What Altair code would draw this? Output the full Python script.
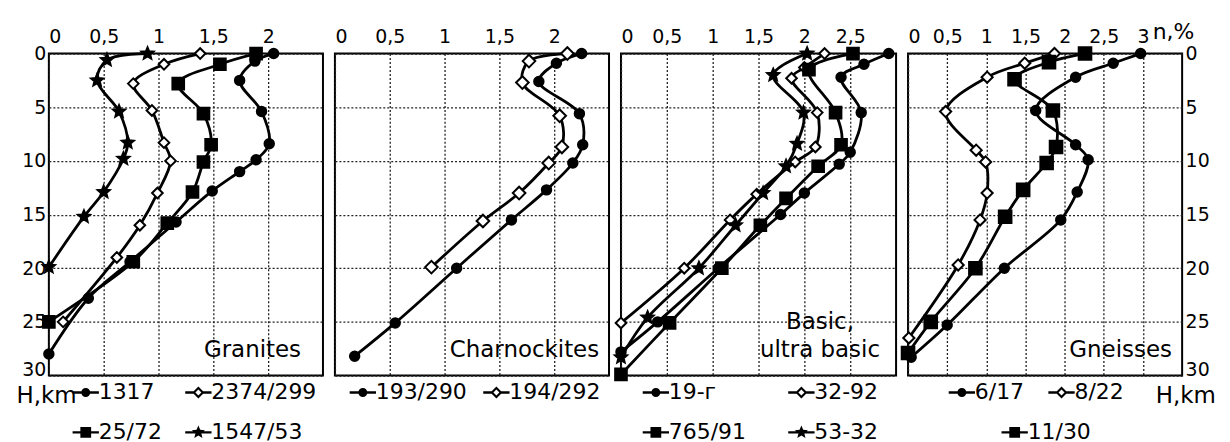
import altair as alt
import pandas as pd

FONT = "DejaVu Sans"

# ---------------- data (n,% vs depth H,km) ----------------
# Granites
GRAN_NAMES = ["1317", "2374/299", "25/72", "1547/53"]
GRAN_1317_D = [0, 0.7, 2.5, 5.4, 8.4, 9.9, 11.0, 12.8, 15.7, 19.4, 22.8, 28.0]
GRAN_1317_X = [2.05, 1.88, 1.74, 1.94, 2.01, 1.89, 1.74, 1.49, 1.16, 0.74, 0.36, 0.0]
GRAN_2374_D = [0, 1.0, 2.8, 5.3, 8.3, 10.0, 13.0, 16.0, 19.0, 25.0]
GRAN_2374_X = [1.38, 1.05, 0.77, 0.94, 1.05, 1.11, 0.99, 0.83, 0.62, 0.13]
GRAN_2572_D = [0, 1.0, 2.8, 5.6, 8.5, 10.1, 12.9, 15.8, 19.4, 25.0]
GRAN_2572_X = [1.89, 1.56, 1.18, 1.41, 1.48, 1.41, 1.31, 1.08, 0.77, 0.0]
GRAN_1547_D = [0, 0.6, 2.5, 5.4, 8.3, 9.8, 12.9, 15.2, 19.9]
GRAN_1547_X = [0.90, 0.53, 0.44, 0.64, 0.72, 0.68, 0.50, 0.32, 0.0]

# Charnockites
CHAR_NAMES = ["193/290", "194/292"]
CHAR_193_D = [0, 0.9, 2.6, 5.6, 8.5, 10.2, 12.7, 15.5, 20.0, 25.1, 28.2]
CHAR_193_X = [2.25, 2.02, 1.86, 2.23, 2.26, 2.17, 1.93, 1.61, 1.11, 0.55, 0.18]
CHAR_194_D = [0, 0.7, 2.7, 5.8, 8.7, 10.2, 13.0, 15.6, 19.9]
CHAR_194_X = [2.12, 1.77, 1.71, 2.05, 2.07, 1.95, 1.68, 1.35, 0.88]

# Basic, ultra basic
BAS_NAMES = ["19-г", "32-92", "765/91", "53-32"]
BAS_19_D = [0, 1.0, 2.2, 5.5, 9.2, 10.3, 13.0, 15.0, 20.0, 25.0, 27.8]
BAS_19_X = [2.92, 2.65, 2.40, 2.62, 2.50, 2.38, 2.00, 1.74, 1.06, 0.40, 0.0]
BAS_32_D = [0, 1.3, 2.3, 5.5, 8.7, 10.1, 13.1, 15.5, 20.0, 25.1]
BAS_32_X = [2.22, 2.00, 1.86, 2.14, 2.12, 1.90, 1.48, 1.19, 0.69, 0.0]
BAS_765_D = [0, 1.5, 5.5, 8.5, 10.5, 13.5, 16.0, 20.0, 25.1, 29.9]
BAS_765_X = [2.53, 2.05, 2.34, 2.40, 2.15, 1.80, 1.52, 1.10, 0.53, 0.0]
BAS_53_D = [0, 2.0, 5.5, 8.4, 10.5, 13.0, 16.0, 20.0, 24.6, 28.3]
BAS_53_X = [2.03, 1.66, 1.99, 1.92, 1.80, 1.55, 1.25, 0.85, 0.29, 0.0]

# Gneisses
GN_NAMES = ["6/17", "8/22", "11/30"]
GN_617_D = [0, 0.9, 2.2, 5.3, 8.5, 9.9, 12.9, 15.5, 20.0, 25.3, 28.3]
GN_617_X = [2.97, 2.62, 2.14, 1.63, 2.14, 2.30, 2.16, 1.95, 1.23, 0.50, 0.04]
GN_822_D = [0, 0.9, 2.2, 5.4, 9.0, 10.1, 13.0, 15.5, 19.7, 26.5]
GN_822_X = [1.87, 1.49, 1.01, 0.48, 0.87, 0.99, 1.01, 0.92, 0.64, 0.01]
GN_1130_D = [0, 0.8, 2.4, 5.3, 8.7, 10.2, 12.7, 15.2, 20.0, 25.0, 27.9]
GN_1130_X = [2.26, 1.80, 1.36, 1.85, 1.89, 1.77, 1.47, 1.24, 0.86, 0.29, 0.0]

# panel captions (text, x, depth)
GRAN_TXT = (["Granites"], [2.30], [28.3])
CHAR_TXT = (["Charnockites"], [2.41], [28.3])
BAS_TXT = (["Basic,", "ultra basic"], [2.17, 2.17], [25.7, 28.3])
GN_TXT = (["Gneisses"], [3.37], [28.3])

DEPTH_TICKS = [0, 5, 10, 15, 20, 25, 30]

# ---------------- marker shapes ----------------
STAR = ("M0,-1L0.265,-0.364L0.951,-0.309L0.428,0.139L0.588,0.809L0,0.45"
        "L-0.588,0.809L-0.428,0.139L-0.951,-0.309L-0.265,-0.364Z")
BAR = "M-2.2,-0.2L2.2,-0.2L2.2,0.2L-2.2,0.2Z "
LEG = {
    "circle": BAR + "M0.75,0A0.75,0.75 0 1,1 -0.75,0A0.75,0.75 0 1,1 0.75,0Z",
    "square": BAR + "M-0.9,-0.9L0.9,-0.9L0.9,0.9L-0.9,0.9Z",
    "star": BAR + ("M0,-1.15L0.305,-0.419L1.094,-0.355L0.492,0.16L0.676,0.93L0,0.518"
                   "L-0.676,0.93L-0.492,0.16L-1.094,-0.355L-0.305,-0.419Z"),
    "diamond": ("M-2.2,-0.2L-0.75,-0.2L-0.75,0.2L-2.2,0.2Z "
                "M0.75,-0.2L2.2,-0.2L2.2,0.2L0.75,0.2Z "
                "M0,-1L1,0L0,1L-1,0Z M0,-0.5L-0.5,0L0,0.5L0.5,0Z"),
}
PLOT_SHAPE = {"circle": "circle", "square": "square", "diamond": "diamond", "star": STAR}
SIZE = {"circle": 90, "square": 140, "diamond": 160, "star": 260}
FILL = {"circle": "black", "square": "black", "diamond": "white", "star": "black"}


def make_df(names, ds, xs):
    rows = []
    for n, d, x in zip(names, ds, xs):
        for i, (dd, xx) in enumerate(zip(d, x)):
            rows.append({"series": n, "depth": dd, "value": xx, "ord": i})
    return pd.DataFrame(rows)


def panel(names, kinds, ds, xs, txt, xmax, xticks, width, yaxis, xtitle,
          legends, txt_align, xtitle_x=0):
    df = make_df(names, ds, xs)
    kind_of = dict(zip(names, kinds))
    tdf = pd.DataFrame({"t": txt[0], "value": txt[1], "depth": txt[2]})

    xax = dict(orient="top", values=xticks,
               labelExpr="replace(format(datum.value, '~g'), '.', ',')",
               ticks=False, tickSize=0, domain=False, grid=True, gridColor="#222",
               gridDash=[2, 2], gridWidth=1.3, labelFont=FONT, labelFontSize=19,
               labelColor="black", labelPadding=7, labelOverlap=False,
               labelBound=False)
    if xtitle:
        xax.update(title=xtitle, titleX=xtitle_x, titleY=-15, titleAngle=0,
                   titleAlign="left", titleBaseline="alphabetic", titleFont=FONT,
                   titleFontSize=22, titleFontWeight="normal", titleColor="black")
    else:
        xax.update(title=None)

    x = alt.X("value:Q", scale=alt.Scale(domain=[0, xmax], nice=False, zero=False),
              axis=alt.Axis(**xax))
    y = alt.Y("depth:Q", scale=alt.Scale(domain=[0, 30], reverse=True, nice=False),
              axis=alt.Axis(**yaxis))

    lines = alt.Chart(df).mark_line(
        color="black", strokeWidth=2.8, interpolate="catmull-rom"
    ).encode(x=x, y=y, detail="series:N", order="ord:Q")

    pts = alt.Chart(df).mark_point(
        stroke="black", strokeWidth=2, opacity=1
    ).encode(
        x=x, y=y,
        shape=alt.Shape("series:N", scale=alt.Scale(domain=names,
                        range=[PLOT_SHAPE[k] for k in kinds]), legend=None),
        fill=alt.Fill("series:N", scale=alt.Scale(domain=names,
                      range=[FILL[k] for k in kinds]), legend=None),
        size=alt.Size("series:N", scale=alt.Scale(domain=names,
                      range=[SIZE[k] for k in kinds]), legend=None),
    )

    layers = [lines, pts]
    for subset, lx, ly, cp in legends:
        sub = df[df["series"].isin(subset)]
        layers.append(alt.Chart(sub).mark_point(
            filled=True, color="black", opacity=0, size=144
        ).encode(
            x=x, y=y,
            shape=alt.Shape("series:N", scale=alt.Scale(
                domain=subset, range=[LEG[kind_of[n]] for n in subset]),
                legend=alt.Legend(orient="none", legendX=lx, legendY=ly,
                                  direction="horizontal",
                                  columns=2, columnPadding=cp,
                                  rowPadding=18, title=None, padding=0,
                                  labelFont=FONT, labelFontSize=22,
                                  labelColor="black", symbolSize=144,
                                  symbolOffset=0, labelOffset=2,
                                  symbolOpacity=1, symbolFillColor="black",
                                  symbolStrokeColor="black",
                                  symbolStrokeWidth=1, labelLimit=300)),
        ))

    text = alt.Chart(tdf).mark_text(
        font=FONT, fontSize=23, align=txt_align, baseline="alphabetic", color="black"
    ).encode(x=x, y=y, text="t:N")
    layers.append(text)

    return alt.layer(*layers).resolve_scale(
        shape="independent").properties(width=width, height=323)


common_y = dict(values=DEPTH_TICKS, ticks=False, tickSize=0, domain=False, grid=True,
                gridColor="#222", gridDash=[2, 2], gridWidth=1.3)
label_y = dict(labelFont=FONT, labelFontSize=19, labelColor="black",
               labelPadding=3, labelOverlap=False, labelBound=False,
               labelBaseline={"condition": {"test": "datum.value == 30",
                                            "value": "alphabetic"},
                              "value": "middle"},
               titleAngle=0, titleAlign="left", titleBaseline="alphabetic",
               titleFont=FONT, titleFontSize=23, titleFontWeight="normal",
               titleColor="black", titleY=350)

y1 = dict(common_y, **label_y, orient="left", title="H,km", titleX=-33)
y4 = dict(common_y, **label_y, orient="right", title="H,km", titleX=-27)
y_none = dict(common_y, labels=False, title=None)

p1 = panel(GRAN_NAMES, ["circle", "diamond", "square", "star"],
           [GRAN_1317_D, GRAN_2374_D, GRAN_2572_D, GRAN_1547_D],
           [GRAN_1317_X, GRAN_2374_X, GRAN_2572_X, GRAN_1547_X],
           GRAN_TXT, 2.5, [0, 0.5, 1, 1.5, 2], 275, y1, None,
           [(GRAN_NAMES, 26, 329, 20)], "right")
p2 = panel(CHAR_NAMES, ["circle", "diamond"],
           [CHAR_193_D, CHAR_194_D], [CHAR_193_X, CHAR_194_X],
           CHAR_TXT, 2.5, [0, 0.5, 1, 1.5, 2], 275, y_none, None,
           [(CHAR_NAMES, 17, 329, 13)], "right")
p3 = panel(BAS_NAMES, ["circle", "diamond", "square", "star"],
           [BAS_19_D, BAS_32_D, BAS_765_D, BAS_53_D],
           [BAS_19_X, BAS_32_X, BAS_765_X, BAS_53_X],
           BAS_TXT, 3.0, [0, 0.5, 1, 1.5, 2, 2.5], 276, y_none, None,
           [(BAS_NAMES, 24, 329, 39)], "center")
p4 = panel(GN_NAMES, ["circle", "diamond", "square"],
           [GN_617_D, GN_822_D, GN_1130_D], [GN_617_X, GN_822_X, GN_1130_X],
           GN_TXT, 3.5, [0, 0.5, 1, 1.5, 2, 2.5, 3], 275, y4, "n,%",
           [(GN_NAMES[:2], 43, 329, 21), (GN_NAMES[2:], 96, 369, 7)], "right",
           xtitle_x=245)

chart = alt.hconcat(p1, p2, p3, p4, spacing=12, bounds="flush").resolve_scale(
    shape="independent", fill="independent", size="independent"
).properties(
    padding={"left": 7, "top": 11, "right": 5, "bottom": 0},
    background="white",
).configure_view(stroke="black", strokeWidth=2)

chart.save("out.html", embed_options={"renderer": "svg", "actions": False})
